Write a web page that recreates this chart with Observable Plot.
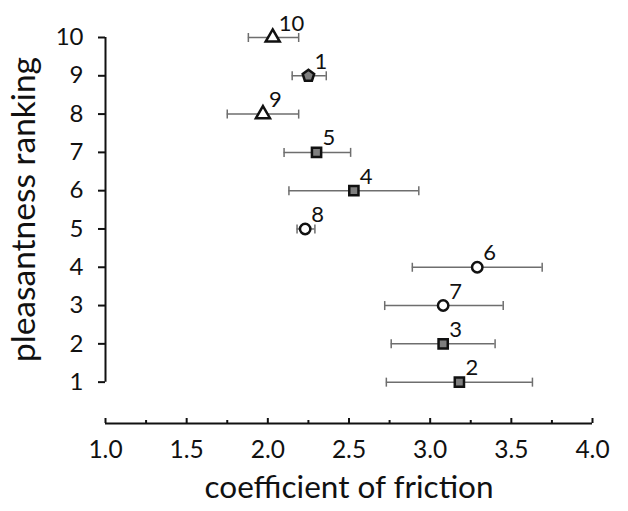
<!DOCTYPE html>
<html><head><meta charset="utf-8">
<script src="https://cdn.jsdelivr.net/npm/d3@7"></script>
<script src="https://cdn.jsdelivr.net/npm/@observablehq/plot@0.6"></script>
<style>body{margin:0;background:#fff}</style>
</head><body><div id="chart"></div>
<script>
// Data
const ranks   = [10, 9, 8, 7, 6, 5, 4, 3, 2, 1];
const samples = ["10", "1", "9", "5", "4", "8", "6", "7", "3", "2"];
const means   = [2.03, 2.25, 1.97, 2.30, 2.53, 2.23, 3.29, 3.08, 3.08, 3.18];
const lows    = [1.88, 2.15, 1.75, 2.10, 2.13, 2.18, 2.89, 2.72, 2.76, 2.73];
const highs   = [2.19, 2.36, 2.19, 2.51, 2.93, 2.29, 3.69, 3.45, 3.40, 3.63];
const shapes  = ["triangle", "pentagon", "triangle", "square", "square", "circle", "circle", "circle", "square", "square"];
const xMajorTicks = [1.0, 1.5, 2.0, 2.5, 3.0, 3.5, 4.0];
const xMinorTicks = [1.25, 1.75, 2.25, 2.75, 3.25, 3.75];
const yTicks = [1, 2, 3, 4, 5, 6, 7, 8, 9, 10];
const xLabel = "coefficient of friction";
const yLabel = "pleasantness ranking";

const data = ranks.map((r, i) => ({rank: r, sample: samples[i], mean: means[i], low: lows[i], high: highs[i], shape: shapes[i]}));

const xDomain = [1, 4];
const yDomain = [-0.08, 10];

const pentagon = {
  draw(context, size) {
    const R = Math.sqrt(size / Math.PI) * 1.16;
    for (let k = 0; k < 5; k++) {
      const a = -Math.PI / 2 + k * 2 * Math.PI / 5;
      const px = R * Math.cos(a), py = R * Math.sin(a);
      if (k) context.lineTo(px, py); else context.moveTo(px, py);
    }
    context.closePath();
  }
};
const cap = {
  draw(context, size) {
    const h = Math.sqrt(size / Math.PI);
    context.moveTo(0, -h);
    context.lineTo(0, h);
  }
};

const barColor = "#6e6e6e";
const ink = "#111";

const chart = Plot.plot({
  width: 628,
  height: 511,
  marginLeft: 105,
  marginRight: 36,
  marginTop: 37,
  marginBottom: 88,
  style: {fontFamily: "Lato, sans-serif", fontSize: "24px", background: "white", color: ink},
  x: {domain: xDomain},
  y: {domain: yDomain},
  symbol: {domain: ["triangle", "pentagon", "square", "circle"], range: [d3.symbolTriangle, pentagon, d3.symbolSquare, d3.symbolCircle]},
  marks: [
    // axis lines
    Plot.ruleY([yDomain[0]], {stroke: ink, strokeWidth: 2}),
    Plot.ruleX([xDomain[0]], {y1: d3.min(yTicks), y2: d3.max(yTicks), stroke: ink, strokeWidth: 2}),
    // x ticks (pointing up) and labels
    Plot.axisX(xMinorTicks, {tickSize: -3, tickFormat: () => "", label: null, strokeWidth: 2}),
    Plot.axisX(xMajorTicks, {tickSize: -5, tickFormat: () => "", label: null, strokeWidth: 2}),
    Plot.axisX(xMajorTicks, {tickSize: 0, tickPadding: 17, tickFormat: d3.format(".1f"), label: null, fontSize: 24.5}),
    // y ticks and labels
    Plot.axisY(yTicks, {tickSize: 7, tickPadding: 15, label: null, fontSize: 24, strokeWidth: 2}),
    // titles
    Plot.text([xLabel], {text: d => d, frameAnchor: "bottom", dy: 74, fontSize: 31.5, fill: ink}),
    Plot.text([yLabel], {text: d => d, frameAnchor: "left", textAnchor: "middle", rotate: -90, dx: -81, dy: -21, fontSize: 33.5, fill: ink}),
    // error bars
    Plot.ruleY(data, {y: "rank", x1: "low", x2: "high", stroke: barColor, strokeWidth: 1.5}),
    Plot.dot(data, {x: "low", y: "rank", symbol: cap, r: 4.5, stroke: barColor, fill: "none", strokeWidth: 1.5}),
    Plot.dot(data, {x: "high", y: "rank", symbol: cap, r: 4.5, stroke: barColor, fill: "none", strokeWidth: 1.5}),
    // markers
    Plot.dot(data, {
      x: "mean", y: "rank", symbol: "shape", r: 5.2,
      fill: d => (d.shape === "square" || d.shape === "pentagon") ? "#7f7f7f" : "white",
      stroke: ink, strokeWidth: 2.5
    }),
    // point labels
    Plot.text(data, {x: "mean", y: "rank", text: "sample", dx: 6, dy: -14, textAnchor: "start", fontSize: 22, fill: ink})
  ]
});
document.getElementById("chart").appendChild(chart);
</script>
</body></html>
